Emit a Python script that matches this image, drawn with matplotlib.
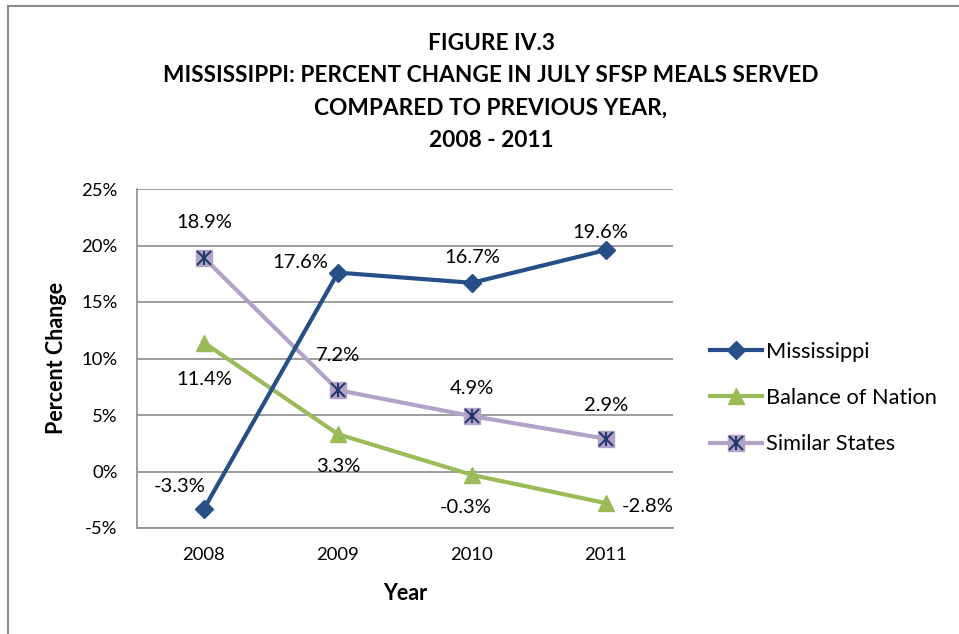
import matplotlib
matplotlib.use('agg')
import matplotlib.pyplot as plt
from matplotlib.lines import Line2D
from matplotlib.legend_handler import HandlerTuple

plt.rcParams['font.family'] = ['Lato', 'DejaVu Sans']

years = ['2008', '2009', '2010', '2011']
mississippi = [-3.3, 17.6, 16.7, 19.6]
balance = [11.4, 3.3, -0.3, -2.8]
similar = [18.9, 7.2, 4.9, 2.9]
y_ticks = [-5, 0, 5, 10, 15, 20, 25]

MS_COLOR = '#254f86'
BAL_COLOR = '#9bbb59'
SIM_COLOR = '#b3a2c7'
STAR_COLOR = '#1f3a6b'

fig = plt.figure(figsize=(9.59, 6.34), dpi=100)
ax = fig.add_axes([137 / 959, 1 - 528 / 634, 536 / 959, 339 / 634])

x = list(range(len(years)))
ax.plot(x, mississippi, color=MS_COLOR, lw=3, marker='D', ms=9, zorder=4)
ax.plot(x, balance, color=BAL_COLOR, lw=3, marker='^', ms=12, zorder=3)
ax.plot(x, similar, color=SIM_COLOR, lw=3, marker='s', ms=12, zorder=3)
ax.plot(x, similar, ls='none', marker='x', ms=10, mew=1.5, color=STAR_COLOR, zorder=5)
ax.plot(x, similar, ls='none', marker='|', ms=10, mew=1.5, color=STAR_COLOR, zorder=5)

# data label offsets in pixels (dx, dy, ha)
ms_off = [(-24, 22, 'center'), (-38, 10, 'center'), (0, 25, 'center'), (-6, 18, 'center')]
bal_off = [(0, -37, 'center'), (0, -32, 'center'), (-6, -33, 'center'), (16, -3, 'left')]
sim_off = [(0, 35, 'center'), (0, 35, 'center'), (0, 28, 'center'), (0, 33, 'center')]
for vals, offs in [(mississippi, ms_off), (balance, bal_off), (similar, sim_off)]:
    for i, v in enumerate(vals):
        dx, dy, ha = offs[i]
        ax.annotate('%.1f%%' % v, (i, v), xytext=(dx, dy), textcoords='offset pixels',
                    ha=ha, va='center', fontsize=14.5, color='black')

ax.set_xlim(-0.5, 3.5)
ax.set_ylim(-5, 25)
ax.set_yticks(y_ticks)
ax.set_yticklabels(['%d%%' % t for t in y_ticks])
ax.set_xticks(x)
ax.set_xticklabels(years)
ax.grid(axis='y', color='#8c8c8c', lw=1.2)
ax.set_axisbelow(True)
for side in ['top', 'right']:
    ax.spines[side].set_visible(False)
for side in ['left', 'bottom']:
    ax.spines[side].set_color('#8c8c8c')
    ax.spines[side].set_linewidth(1.2)
ax.tick_params(length=0, labelsize=13.3, pad=14)
ax.tick_params(axis='y', pad=14)
ax.set_xlabel('Year', fontsize=15.5, fontweight='bold', labelpad=14)
ax.set_ylabel('Percent Change', fontsize=15.5, fontweight='bold', labelpad=10)

title_lines = ['FIGURE IV.3',
               'MISSISSIPPI: PERCENT CHANGE IN JULY SFSP MEALS SERVED',
               'COMPARED TO PREVIOUS YEAR,',
               '2008 - 2011']
for line, ypix in zip(title_lines, [43, 75, 108, 141]):
    fig.text(491 / 959, 1 - ypix / 634, line, ha='center', va='center',
             fontsize=16.3, fontweight='bold')

h_ms = Line2D([], [], color=MS_COLOR, lw=3, marker='D', ms=9)
h_bal = Line2D([], [], color=BAL_COLOR, lw=3, marker='^', ms=12)
h_sim = (Line2D([], [], color=SIM_COLOR, lw=3, marker='s', ms=12),
         Line2D([], [], ls='none', marker='x', ms=10, mew=1.5, color=STAR_COLOR),
         Line2D([], [], ls='none', marker='|', ms=10, mew=1.5, color=STAR_COLOR))
fig.legend([h_ms, h_bal, h_sim], ['Mississippi', 'Balance of Nation', 'Similar States'],
           handler_map={tuple: HandlerTuple(ndivide=1, pad=0)},
           loc='center left', bbox_to_anchor=(710 / 959, 1 - 398 / 634),
           frameon=False, fontsize=15.7, handlelength=2.4, handletextpad=0.15,
           labelspacing=1.2, borderaxespad=0, borderpad=0)

# outer frame (left and top edges)
fig.add_artist(Line2D([8 / 959, 8 / 959], [0, 1 - 6 / 634], color='#8c8c8c', lw=1.5))
fig.add_artist(Line2D([8 / 959, 1], [1 - 6 / 634, 1 - 6 / 634], color='#8c8c8c', lw=1.5))

fig.savefig('out.png', dpi=100)
